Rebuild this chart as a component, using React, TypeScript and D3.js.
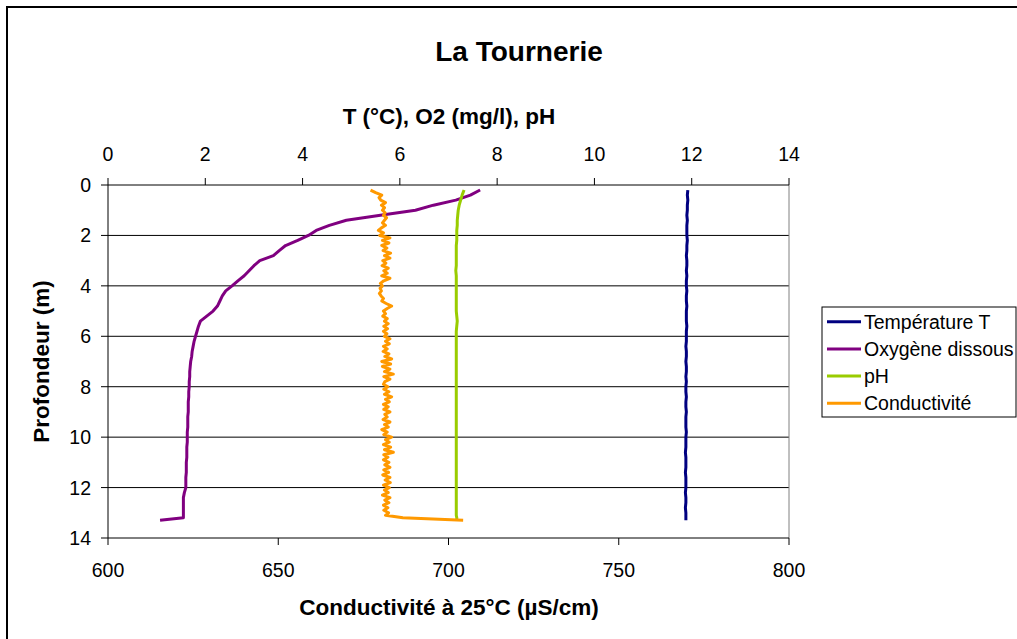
import React from "react";
import * as d3 from "d3";

// Profile depths (m) for temperature, oxygen and pH
const depth = [
  0.2, 0.4, 0.6, 0.8, 1.0, 1.2, 1.4, 1.6, 1.8, 2.0,
  2.2, 2.4, 2.6, 2.8, 3.0, 3.2, 3.4, 3.6, 3.8, 4.0,
  4.2, 4.4, 4.6, 4.8, 5.0, 5.2, 5.4, 5.6, 5.8, 6.0,
  6.2, 6.4, 6.6, 6.8, 7.0, 7.2, 7.4, 7.6, 7.8, 8.0,
  8.2, 8.4, 8.6, 8.8, 9.0, 9.2, 9.4, 9.6, 9.8, 10.0,
  10.2, 10.4, 10.6, 10.8, 11.0, 11.2, 11.4, 11.6, 11.8, 12.0,
  12.2, 12.4, 12.6, 12.8, 13.0, 13.1, 13.2, 13.3,
];

// Temperature (°C)
const temperature = [
  11.92, 11.91, 11.92, 11.91, 11.91, 11.90, 11.91, 11.90, 11.90, 11.90,
  11.91, 11.90, 11.90, 11.89, 11.90, 11.90, 11.89, 11.90, 11.89, 11.89,
  11.90, 11.89, 11.89, 11.90, 11.89, 11.89, 11.89, 11.90, 11.89, 11.89,
  11.89, 11.88, 11.89, 11.89, 11.88, 11.89, 11.89, 11.88, 11.89, 11.88,
  11.88, 11.89, 11.88, 11.88, 11.89, 11.88, 11.88, 11.88, 11.89, 11.88,
  11.88, 11.88, 11.87, 11.88, 11.88, 11.88, 11.87, 11.88, 11.88, 11.88,
  11.87, 11.88, 11.88, 11.87, 11.88, 11.88, 11.88, 11.88,
];

// Dissolved oxygen (mg/l)
const oxygen = [
  7.65, 7.45, 7.15, 6.69, 6.32, 5.60, 4.90, 4.55, 4.28, 4.12,
  3.90, 3.65, 3.52, 3.40, 3.12, 3.00, 2.90, 2.80, 2.67, 2.55,
  2.42, 2.35, 2.30, 2.25, 2.16, 2.03, 1.90, 1.86, 1.83, 1.80,
  1.77, 1.75, 1.73, 1.72, 1.70, 1.69, 1.68, 1.68, 1.67, 1.67,
  1.66, 1.66, 1.65, 1.65, 1.65, 1.64, 1.64, 1.64, 1.63, 1.63,
  1.63, 1.62, 1.62, 1.62, 1.61, 1.61, 1.61, 1.60, 1.60, 1.60,
  1.57, 1.55, 1.55, 1.55, 1.55, 1.55, 1.55, 1.07,
];

// pH
const ph = [
  7.32, 7.28, 7.25, 7.22, 7.20, 7.19, 7.18, 7.18, 7.17, 7.17,
  7.17, 7.16, 7.16, 7.16, 7.16, 7.16, 7.15, 7.16, 7.16, 7.16,
  7.16, 7.16, 7.16, 7.16, 7.16, 7.17, 7.18, 7.17, 7.16, 7.16,
  7.16, 7.16, 7.16, 7.16, 7.16, 7.16, 7.16, 7.16, 7.16, 7.16,
  7.16, 7.16, 7.16, 7.16, 7.16, 7.16, 7.16, 7.16, 7.16, 7.16,
  7.16, 7.16, 7.16, 7.16, 7.16, 7.16, 7.16, 7.16, 7.16, 7.16,
  7.16, 7.16, 7.16, 7.16, 7.16, 7.16, 7.17, 7.17,
];

// Conductivity readings are logged every 0.1 m
const condDepth = [
  0.2, 0.3, 0.4, 0.5, 0.6, 0.7, 0.8, 0.9, 1.0, 1.1,
  1.2, 1.3, 1.4, 1.5, 1.6, 1.7, 1.8, 1.9, 2.0, 2.1,
  2.2, 2.3, 2.4, 2.5, 2.6, 2.7, 2.8, 2.9, 3.0, 3.1,
  3.2, 3.3, 3.4, 3.5, 3.6, 3.7, 3.8, 3.9, 4.0, 4.1,
  4.2, 4.3, 4.4, 4.5, 4.6, 4.7, 4.8, 4.9, 5.0, 5.1,
  5.2, 5.3, 5.4, 5.5, 5.6, 5.7, 5.8, 5.9, 6.0, 6.1,
  6.2, 6.3, 6.4, 6.5, 6.6, 6.7, 6.8, 6.9, 7.0, 7.1,
  7.2, 7.3, 7.4, 7.5, 7.6, 7.7, 7.8, 7.9, 8.0, 8.1,
  8.2, 8.3, 8.4, 8.5, 8.6, 8.7, 8.8, 8.9, 9.0, 9.1,
  9.2, 9.3, 9.4, 9.5, 9.6, 9.7, 9.8, 9.9, 10.0, 10.1,
  10.2, 10.3, 10.4, 10.5, 10.6, 10.7, 10.8, 10.9, 11.0, 11.1,
  11.2, 11.3, 11.4, 11.5, 11.6, 11.7, 11.8, 11.9, 12.0, 12.1,
  12.2, 12.3, 12.4, 12.5, 12.6, 12.7, 12.8, 12.9, 13.0, 13.1,
  13.2, 13.3,
];

// Conductivity at 25 °C (µS/cm)
const conductivity = [
  677.1, 678.6, 680.4, 679.6, 680.1, 681.5, 680.3, 681.2, 680.6, 681.4,
  680.9, 681.8, 681.2, 680.6, 681.5, 680.3, 679.4, 680.9, 679.8, 682.8,
  680.6, 682.5, 680.4, 681.9, 680.8, 683.0, 681.2, 682.8, 680.7, 681.6,
  680.5, 682.3, 681.0, 682.0, 680.4, 682.8, 681.0, 680.0, 680.6, 679.9,
  680.3, 679.7, 680.2, 680.9, 680.4, 681.7, 683.3, 682.0, 680.9, 681.5,
  680.7, 682.0, 681.2, 682.3, 681.0, 682.1, 680.9, 681.9, 681.2, 682.8,
  681.5, 682.6, 680.9, 682.0, 680.8, 682.5, 681.3, 683.3, 680.4, 683.0,
  680.6, 682.8, 681.2, 683.8, 681.0, 682.8, 681.3, 680.9, 682.2, 681.0,
  682.5, 681.2, 683.3, 681.5, 682.6, 680.9, 682.3, 681.0, 682.8, 681.3,
  682.0, 680.8, 682.8, 681.2, 682.3, 680.4, 682.0, 681.0, 683.3, 681.5,
  682.6, 680.9, 683.0, 681.2, 683.8, 681.0, 682.2, 680.9, 682.5, 681.3,
  682.8, 681.0, 682.4, 680.7, 682.8, 681.4, 682.9, 680.9, 682.6, 681.2,
  682.3, 680.6, 682.8, 681.3, 682.5, 680.9, 682.2, 681.0, 682.4, 681.5,
  686.6, 704.3,
];

const topTicks = [0, 2, 4, 6, 8, 10, 12, 14];
const depthTicks = [0, 2, 4, 6, 8, 10, 12, 14];
const condTicks = [600, 650, 700, 750, 800];

const seriesNames = ["Température T", "Oxygène dissous", "pH", "Conductivité"];
const seriesColors = ["#000080", "#800080", "#99CC00", "#FF9900"];

const FONT = "'Liberation Sans', Arial, sans-serif";

export default function App() {
  const left = 108;
  const right = 789;
  const top = 185;
  const bottom = 538;

  const xTop = d3.scaleLinear().domain([0, 14]).range([left, right]);
  const xBottom = d3.scaleLinear().domain([600, 800]).range([left, right]);
  const y = d3.scaleLinear().domain([0, 14]).range([top, bottom]);

  const profile = (vals: number[], depths: number[], x: (v: number) => number) =>
    d3
      .line<number>()
      .x((v) => x(v))
      .y((_, i) => y(depths[i]))(vals) || "";

  const paths = [
    profile(temperature, depth, xTop),
    profile(oxygen, depth, xTop),
    profile(ph, depth, xTop),
    profile(conductivity, condDepth, xBottom),
  ];

  const legendX = 822;
  const legendY = 307;
  const rowH = 27.2;

  return (
    <svg
      width={1017}
      height={639}
      style={{ position: "absolute", left: 0, top: 0, background: "#fff" }}
      fontFamily={FONT}
    >
      <rect x={0} y={0} width={1017} height={639} fill="#fff" />
      <rect x={7} y={7} width={1030} height={650} fill="none" stroke="#000" strokeWidth={2} />

      {/* title */}
      <text x={519} y={61} textAnchor="middle" fontSize={28} fontWeight="bold">
        La Tournerie
      </text>

      {/* gridlines */}
      {depthTicks
        .filter((t) => t > 0 && t < 14)
        .map((t) => (
          <line key={"g" + t} x1={left} x2={right} y1={y(t)} y2={y(t)} stroke="#000" strokeWidth={1} />
        ))}

      {/* plot frame */}
      <line x1={right} x2={right} y1={top} y2={bottom} stroke="#808080" strokeWidth={1} />
      <line x1={left} x2={right} y1={top} y2={top} stroke="#000" strokeWidth={1} />
      <line x1={left} x2={right} y1={bottom} y2={bottom} stroke="#000" strokeWidth={1} />
      <line x1={left} x2={left} y1={top} y2={bottom} stroke="#000" strokeWidth={1} />

      {/* top axis */}
      {topTicks.map((t) => (
        <g key={"t" + t}>
          <line x1={xTop(t)} x2={xTop(t)} y1={top - 7} y2={top} stroke="#000" />
          <text x={xTop(t)} y={161} textAnchor="middle" fontSize={19.5}>
            {t}
          </text>
        </g>
      ))}
      <text x={449} y={124} textAnchor="middle" fontSize={22.5} fontWeight="bold">
        T (°C), O2 (mg/l), pH
      </text>

      {/* depth axis */}
      {depthTicks.map((t) => (
        <g key={"d" + t}>
          <line x1={left - 7} x2={left} y1={y(t)} y2={y(t)} stroke="#000" />
          <text x={91} y={y(t) + 7} textAnchor="end" fontSize={19.5}>
            {t}
          </text>
        </g>
      ))}
      <text
        transform={`translate(49, ${(top + bottom) / 2}) rotate(-90)`}
        textAnchor="middle"
        fontSize={22.5}
        fontWeight="bold"
      >
        Profondeur (m)
      </text>

      {/* conductivity axis */}
      {condTicks.map((t) => (
        <g key={"c" + t}>
          <line x1={xBottom(t)} x2={xBottom(t)} y1={bottom} y2={bottom + 7} stroke="#000" />
          <text x={xBottom(t)} y={577} textAnchor="middle" fontSize={19.5}>
            {t}
          </text>
        </g>
      ))}
      <text x={449} y={615} textAnchor="middle" fontSize={22.5} fontWeight="bold">
        Conductivité à 25°C (µS/cm)
      </text>

      {/* series */}
      {paths.map((d, i) => (
        <path
          key={"s" + i}
          d={d}
          fill="none"
          stroke={seriesColors[i]}
          strokeWidth={3}
          strokeLinejoin="round"
        />
      ))}

      {/* legend */}
      <rect x={legendX} y={legendY} width={194} height={110} fill="#fff" stroke="#000" strokeWidth={1} />
      {seriesNames.map((name, i) => {
        const cy = legendY + 14.7 + i * rowH;
        return (
          <g key={"l" + i}>
            <line x1={827} x2={861} y1={cy} y2={cy} stroke={seriesColors[i]} strokeWidth={3} />
            <text x={864} y={cy + 7} fontSize={19.5}>
              {name}
            </text>
          </g>
        );
      })}
    </svg>
  );
}
